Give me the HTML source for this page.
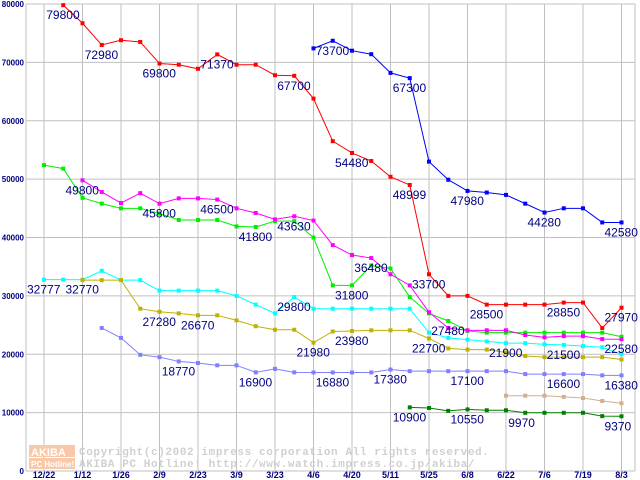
<!DOCTYPE html>
<html><head><meta charset="utf-8"><style>
html,body{margin:0;padding:0;background:#fff;}
svg{display:block;font-family:"Liberation Sans",sans-serif;}
</style></head><body>
<svg id="chart" width="640" height="480" viewBox="0 0 640 480" xmlns="http://www.w3.org/2000/svg"></svg>
<script>
const xLabels=["12/22","1/12","1/26","2/9","2/23","3/9","3/23","4/6","4/20","5/11","5/25","6/8","6/22","7/6","7/19","8/3"];
const yTicks=[0,10000,20000,30000,40000,50000,60000,70000,80000];
const N=null;
const redVals=[N,79800,76700,72980,73800,73500,69800,69600,68900,71370,69600,69600,67800,67700,63800,56500,54480,53100,50400,48999,33700,30000,30000,28500,28500,28500,28500,28850,28850,24500,27970];
const blueVals=[N,N,N,N,N,N,N,N,N,N,N,N,N,N,72400,73700,72000,71400,68200,67300,53000,49900,47980,47700,47300,45800,44280,45000,45000,42580,42580];
const greenVals=[52400,51800,46800,45800,45000,45000,44100,43000,43000,43000,41900,41800,42800,42800,40000,31800,31800,35200,34700,29800,27000,25700,24000,23700,23700,23700,23700,23700,23700,23700,23000];
const magentaVals=[N,N,49800,47800,45900,47600,45800,46700,46700,46500,45000,44200,43100,43630,42900,38700,37000,36480,33700,31800,27200,24500,24100,24100,24100,23300,22900,23100,23100,22600,22580];
const cyanVals=[32777,32777,32770,34300,32700,32700,30900,30900,30900,30900,30000,28500,27000,29800,27800,27800,27800,27800,27800,27800,23700,22800,22500,22200,21900,21900,21700,21600,21400,21200,20000];
const oliveVals=[N,N,32700,32700,32700,27800,27280,27000,26670,26670,25800,24800,24200,24200,21980,23900,23980,24100,24100,24100,22700,21000,20800,20800,20300,19700,19500,19500,19500,19500,19100];
const lavenderVals=[N,N,N,24500,22800,19900,19500,18770,18500,18100,18100,16900,17500,16900,16880,16880,16880,16880,17380,17100,17100,17100,17100,17100,17100,16600,16600,16600,16600,16380,16380];
const tanVals=[N,N,N,N,N,N,N,N,N,N,N,N,N,N,N,N,N,N,N,N,N,N,N,N,12900,12900,12900,12700,12500,12000,11600];
const darkGreenVals=[N,N,N,N,N,N,N,N,N,N,N,N,N,N,N,N,N,N,N,10900,10800,10300,10550,10400,10400,9970,9970,9970,9970,9400,9370];
const seriesNames=["red","blue","green","magenta","cyan","olive","lavender","tan","dark-green"];
const seriesColors=["#ff0000","#0000ff","#00ee00","#ff00ff","#00ffff","#c0b000","#8080ff","#d0b090","#008000"];
const seriesData=[redVals,blueVals,greenVals,magentaVals,cyanVals,oliveVals,lavenderVals,tanVals,darkGreenVals];
const valueLabels=[[0,1,"79800"],[0,3,"72980"],[0,6,"69800"],[0,9,"71370"],[0,13,"67700"],[0,16,"54480"],[0,19,"48999"],[0,20,"33700"],[0,23,"28500"],[0,27,"28850"],[0,30,"27970"],
[1,15,"73700"],[1,19,"67300"],[1,22,"47980"],[1,26,"44280"],[1,30,"42580"],
[2,11,"41800"],[2,16,"31800"],[2,21,"27480"],
[3,2,"49800"],[3,6,"45800"],[3,9,"46500"],[3,13,"43630"],[3,17,"36480"],[3,30,"22580"],
[4,0,"32777"],[4,2,"32770"],[4,13,"29800"],[4,24,"21900"],[4,27,"21500"],
[5,6,"27280"],[5,8,"26670"],[5,14,"21980"],[5,16,"23980"],[5,20,"22700"],
[6,7,"18770"],[6,11,"16900"],[6,15,"16880"],[6,18,"17380"],[6,22,"17100"],[6,27,"16600"],[6,30,"16380"],
[8,19,"10900"],[8,22,"10550"],[8,25,"9970"],[8,30,"9370"]];

const svg=document.getElementById('chart');
const NS="http://www.w3.org/2000/svg";
const X0=44,DX=19.25,Y0=471,YS=467/80000;
function xAt(i){return X0+DX*i;}
function yAt(v){return Y0-v*YS;}
function mk(tag,attrs,parent){const e=document.createElementNS(NS,tag);for(const k in attrs)e.setAttribute(k,attrs[k]);(parent||svg).appendChild(e);return e;}

// grid
const grid=mk('g',{});


yTicks.forEach(v=>{mk('line',{x1:26,x2:635,y1:yAt(v),y2:yAt(v),stroke:'#c0c0c0','stroke-width':1},grid);});
xLabels.forEach((l,k)=>{mk('line',{x1:xAt(2*k),x2:xAt(2*k),y1:yAt(80000),y2:Y0,stroke:'#c0c0c0','stroke-width':1},grid);});
mk('line',{x1:26,x2:26,y1:yAt(80000),y2:Y0,stroke:'#c0c0c0'},grid);
mk('line',{x1:635,x2:635,y1:yAt(80000),y2:Y0,stroke:'#c0c0c0'},grid);

// watermark
const wm=mk('g',{});


mk('rect',{x:29,y:445,width:46,height:12,fill:'#f8c8a8'},wm);
mk('rect',{x:29,y:458,width:46,height:11,fill:'#f8c8a8'},wm);
const wt1=mk('text',{x:31,y:456,'font-size':11,'font-weight':'bold',fill:'#fff'},wm);wt1.textContent="AKIBA";
const wt2=mk('text',{x:31,y:467,'font-size':8,'font-weight':'bold',fill:'#fff'},wm);wt2.textContent="PC Hotline!";
const wt3=mk('text',{x:79,y:455,'font-size':11,'font-family':'Liberation Mono, monospace','font-weight':'bold',fill:'#d0d0d0','letter-spacing':'0.6'},wm);wt3.textContent="Copyright(c)2002 impress corporation All rights reserved.";
const wt4=mk('text',{x:79,y:467,'font-size':11,'font-family':'Liberation Mono, monospace','font-weight':'bold',fill:'#d0d0d0','letter-spacing':'0.6'},wm);wt4.textContent="AKIBA PC Hotline!  http://www.watch.impress.co.jp/akiba/";

// axis labels
yTicks.forEach(v=>{const t=mk('text',{x:24,y:yAt(v)+3,'font-size':8,'font-weight':'bold',fill:'#000080','text-anchor':'end'});


t.textContent=v;});
xLabels.forEach((l,k)=>{const t=mk('text',{x:xAt(2*k),y:478,'font-size':9,'font-weight':'bold',fill:'#000080','text-anchor':'middle'});


t.textContent=l;});

// series
seriesData.forEach((vals,s)=>{
  const g=mk('g',{});
  
  
  let d='';let pen=false;
  vals.forEach((v,i)=>{if(v===null){pen=false;return;}d+=(pen?'L':'M')+xAt(i)+' '+yAt(v);pen=true;});
  mk('path',{d:d,fill:'none',stroke:seriesColors[s],'stroke-width':1},g);
  vals.forEach((v,i)=>{if(v===null)return;const r=mk('rect',{x:xAt(i)-2,y:yAt(v)-2,width:4,height:4,fill:seriesColors[s]},g);
    
    });
});

// value labels
valueLabels.forEach(([s,i,txt])=>{
  const v=seriesData[s][i];
  const t=mk('text',{x:xAt(i)-17,y:yAt(v)+14,'font-size':12,fill:'#000080'});
  
  
  t.textContent=txt;
});
</script>
</body></html>
